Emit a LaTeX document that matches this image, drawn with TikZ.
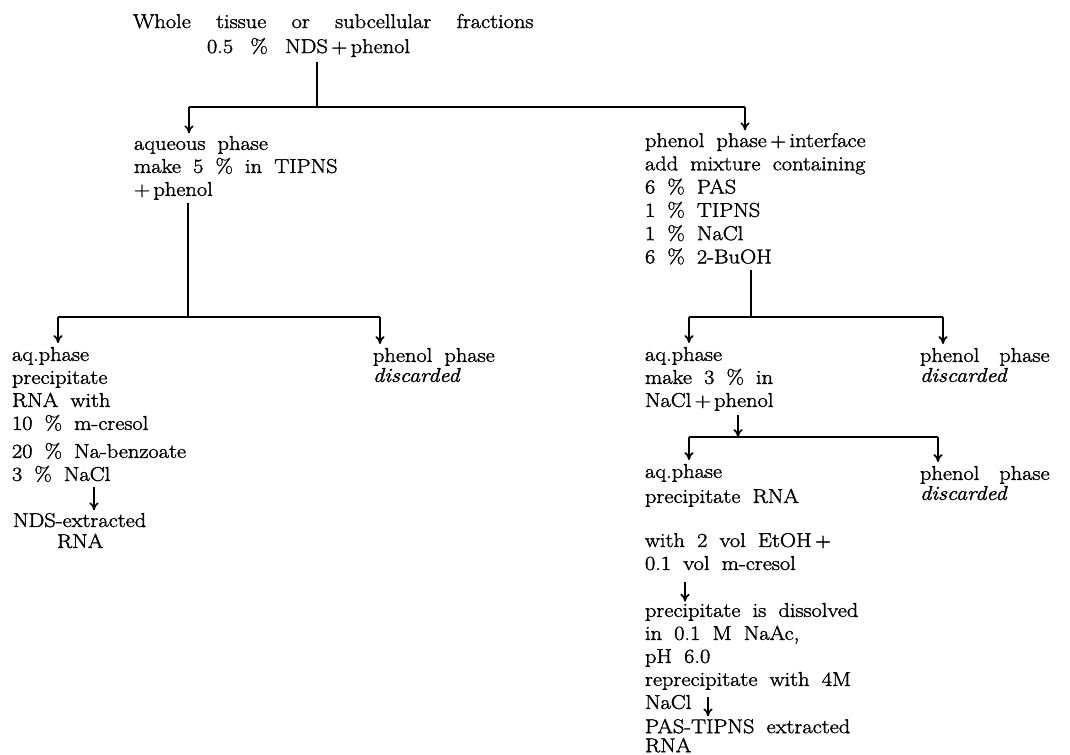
\documentclass[tikz,border=0pt]{standalone}
\usepackage{fontspec}
\setmainfont{Latin Modern Roman}[WordSpace=1.8,FakeStretch=1.12,FakeBold=1.6]
\usetikzlibrary{arrows.meta}
\newcommand\fs{\fontsize{15pt}{17.25pt}\selectfont}
\begin{document}
\begin{tikzpicture}[x=0.75pt,y=-0.75pt,
  txt/.style={inner sep=0pt,outer sep=0pt,anchor=north west,align=left,font=\fs},
  ln/.style={line width=1.3pt},
  arr/.style={line width=1.3pt,-{To[length=6pt,width=7pt]}}]
\useasboundingbox (0,0) rectangle (1070,755);
% texts
\node[txt] (title) at (133,14)
  {Whole\hspace{19pt}tissue\hspace{19pt}or\hspace{19pt}subcellular\hspace{19pt}fractions\\[1.5pt]\hspace*{55.5pt}0.5\hspace{13pt}\%\hspace{13pt}NDS\,+\,phenol};
\node[txt] (aqL) at (134,136) {aqueous phase\\make 5 \% in TIPNS\\+\,phenol};
\node[txt] (phR) at (645,133) {phenol phase\,+\,interface\\[0.2pt]add mixture containing\\[0.2pt]6 \% PAS\\[0.2pt]1 \% TIPNS\\[0.2pt]1 \% NaCl\\[0.2pt]6 \% 2-BuOH};
\node[txt] (aqLL) at (12,347) {aq.phase\\precipitate\\RNA with\\10 \% m-cresol\\[3.75pt]20 \% Na-benzoate\\3 \% NaCl};
\node[txt] (nds) at (13,513) {NDS-extracted\\[-1.5pt]\hspace*{33pt}RNA};
\node[txt] (phL) at (373,348) {phenol phase\\[-2.25pt]\textit{discarded}};
\node[txt] (aqR) at (645,347) {aq.phase\\make 3 \% in\\NaCl\,+\,phenol};
\node[txt] (phR2) at (920,348) {phenol\hspace{15pt}phase\\[-2.25pt]\textit{discarded}};
\node[txt] (aqR2) at (645,464) {aq.phase\\[1.5pt]precipitate RNA};
\node[txt] (with) at (645,533) {with 2 vol EtOH\,+\\0.1 vol m-cresol};
\node[txt] (prec) at (645,603) {precipitate is dissolved\\in 0.1 M NaAc,\\pH 6.0\\reprecipitate with 4M\\NaCl};
\node[txt] (pas) at (645,719) {PAS-TIPNS extracted\\[-3pt]RNA};
\node[txt] (phR3) at (920,466) {phenol\hspace{15pt}phase\\[-2.25pt]\textit{discarded}};
% junctions
\coordinate (j1) at (317,107);
\coordinate (j1L) at (189,107);
\coordinate (j1R) at (745,107);
\coordinate (j2) at (188,317);
\coordinate (j2L) at (58,317);
\coordinate (j2R) at (380,317);
\coordinate (j3) at (751,317);
\coordinate (j3L) at (689,317);
\coordinate (j3R) at (943,317);
\coordinate (j4) at (738,437);
\coordinate (j4L) at (689,437);
\coordinate (j4R) at (938,437);
% connectors
\draw[ln,shorten <=3.5pt] (title.south -| j1) -- (j1);
\draw[ln] (j1L) -- (j1R);
\draw[arr,shorten >=2pt] (j1L) -- (aqL.north -| j1L);
\draw[arr,shorten >=2pt] (j1R) -- (phR.north -| j1R);
\draw[ln,shorten <=2.5pt] (aqL.south -| j2) -- (j2);
\draw[ln] (j2L) -- (j2R);
\draw[arr,shorten >=3pt] (j2L) -- (aqLL.north -| j2L);
\draw[arr,shorten >=3pt] (j2R) -- (phL.north -| j2R);
\draw[ln,shorten <=4.5pt] (phR.south -| j3) -- (j3);
\draw[ln] (j3L) -- (j3R);
\draw[arr,shorten >=3pt] (j3L) -- (aqR.north -| j3L);
\draw[arr,shorten >=3pt] (j3R) -- (phR2.north -| j3R);
\draw[arr,shorten <=3.5pt] (aqR.south -| j4) -- (j4);
\draw[ln] (j4L) -- (j4R);
\draw[arr,shorten >=3pt] (j4L) -- (aqR2.north -| j4L);
\draw[arr,shorten >=3pt] (j4R) -- (phR3.north -| j4R);
\draw[arr,shorten <=4pt,shorten >=2pt] (aqLL.south -| 94,0) -- (nds.north -| 94,0);
\draw[arr,shorten <=9pt,shorten >=1pt] (with.south -| 685,0) -- (prec.north -| 685,0);
\draw[arr,shorten >=2pt] (prec.south -| 708,0) ++(0,-12) -- (pas.north -| 708,0);
\end{tikzpicture}
\end{document}
